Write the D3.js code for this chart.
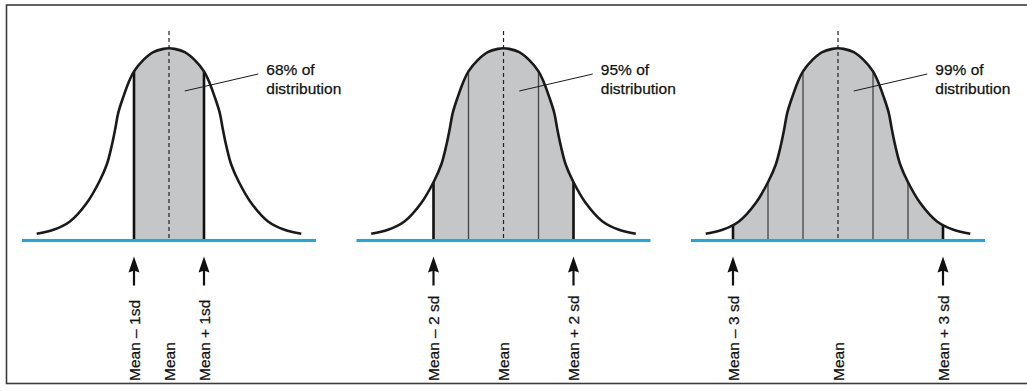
<!DOCTYPE html>
<html>
  <head>
    <title>Normal distribution</title>
    <script src="https://d3js.org/d3.v7.min.js"></script>
    <style>
      body { margin: 0; background: #fff; }
      text { font-family: "Liberation Sans", Arial, Helvetica, sans-serif; fill: #111; stroke: #111; stroke-width: 0.25px; }
    </style>
  </head>
  <body>
    <svg width="1027" height="391"></svg>
    <script>
      // one panel per band of standard deviations
      const panelSd = [1, 2, 3];
      const shareLabels = ["68% of", "95% of", "99% of"];
      const lowLabels = ["Mean \u2013 1sd", "Mean \u2013 2 sd", "Mean \u2013 3 sd"];
      const highLabels = ["Mean + 1sd", "Mean + 2 sd", "Mean + 3 sd"];

      // half the bell: offset in sd, height relative to the peak
      const curveSd = [0, 0.16, 0.45, 0.73, 1.0, 1.16, 1.30, 1.45, 1.54, 1.64, 1.78, 1.99, 2.35, 2.83, 3.30, 3.78];
      const curveHeight = [1, 0.997, 0.98, 0.94, 0.88, 0.82, 0.75, 0.664, 0.577, 0.49, 0.394, 0.307, 0.195, 0.099, 0.056, 0.035];

      const svg = d3.select("svg");
      const width = +svg.attr("width");

      const baseY = 240.5;
      const sdPx = 35;
      const fontSize = 15.5;

      const panelX = d3.scalePoint().domain(panelSd).range([169, 838]);
      const yScale = d3.scaleLinear().domain([0, 1]).range([baseY, 48.3]);

      const bell = curveSd.slice(1).map((s, i) => [-s, curveHeight[i + 1]]).reverse()
        .concat(curveSd.map((s, i) => [s, curveHeight[i]]));

      // frame
      svg.append("rect")
        .attr("x", 6.5).attr("y", 5)
        .attr("width", width).attr("height", 378.5)
        .attr("fill", "none")
        .attr("stroke", "#3c3c3c")
        .attr("stroke-width", 1.6);

      const defs = svg.append("defs");

      panelSd.forEach((k, i) => {
        const mean = panelX(k);
        const x = d3.scaleLinear().domain([-1, 1]).range([mean - sdPx, mean + sdPx]);
        const g = svg.append("g");

        const area = d3.area()
          .x(d => x(d[0]))
          .y0(baseY)
          .y1(d => yScale(d[1]))
          .curve(d3.curveCatmullRom.alpha(0.5));
        const line = d3.line()
          .x(d => x(d[0]))
          .y(d => yScale(d[1]))
          .curve(d3.curveCatmullRom.alpha(0.5));

        defs.append("clipPath").attr("id", "band" + i)
          .append("rect")
          .attr("x", x(-k)).attr("y", 0)
          .attr("width", x(k) - x(-k)).attr("height", baseY + 2);
        defs.append("clipPath").attr("id", "under" + i)
          .append("path").attr("d", area(bell));

        // shaded share
        g.append("path")
          .attr("d", area(bell))
          .attr("fill", "#c5c6c8")
          .attr("clip-path", `url(#band${i})`);

        // sd dividers, cut at the curve
        const marks = d3.range(-k, k + 1).filter(d => d !== 0);
        g.append("g").attr("clip-path", `url(#under${i})`)
          .selectAll("line").data(marks).join("line")
          .attr("x1", d => x(d)).attr("x2", d => x(d))
          .attr("y1", 20).attr("y2", baseY)
          .attr("stroke", d => Math.abs(d) === k ? "#111" : "#444")
          .attr("stroke-width", d => Math.abs(d) === k ? 2.6 : 1.3);

        // mean
        g.append("line")
          .attr("x1", x(0)).attr("x2", x(0))
          .attr("y1", 31).attr("y2", baseY)
          .attr("stroke", "#222")
          .attr("stroke-width", 1.2)
          .attr("stroke-dasharray", "4,3");

        g.append("path")
          .attr("d", line(bell))
          .attr("fill", "none")
          .attr("stroke", "#1a1a1a")
          .attr("stroke-width", 2.6);

        g.append("line")
          .attr("x1", x(-4.2)).attr("x2", x(4.2))
          .attr("y1", baseY).attr("y2", baseY)
          .attr("stroke", "#15ace6")
          .attr("stroke-width", 3);

        // callout
        g.append("line")
          .attr("x1", x(0.45)).attr("y1", 91)
          .attr("x2", x(2.55)).attr("y2", 74)
          .attr("stroke", "#1a1a1a")
          .attr("stroke-width", 1);
        const t = g.append("text")
          .attr("x", x(2.78)).attr("y", 75)
          .attr("font-size", fontSize);
        t.append("tspan").text(shareLabels[i]);
        t.append("tspan").attr("x", x(2.78)).attr("dy", 19).text("distribution");

        // arrows
        g.selectAll("path.arrow").data([-k, k]).join("path")
          .attr("class", "arrow")
          .attr("d", d => `M${x(d)},256.5 L${x(d) + 5.5},272.5 L${x(d) + 1.1},271 L${x(d) + 1.1},285.5 L${x(d) - 1.1},285.5 L${x(d) - 1.1},271 L${x(d) - 5.5},272.5 Z`)
          .attr("fill", "#111");

        const labels = [[-k, lowLabels[i]], [0, "Mean"], [k, highLabels[i]]];
        g.selectAll("text.axis").data(labels).join("text")
          .attr("class", "axis")
          .attr("transform", d => `translate(${x(d[0])},381) rotate(-90)`)
          .attr("dy", "0.36em")
          .attr("font-size", fontSize)
          .text(d => d[1]);
      });
    </script>
  </body>
</html>
